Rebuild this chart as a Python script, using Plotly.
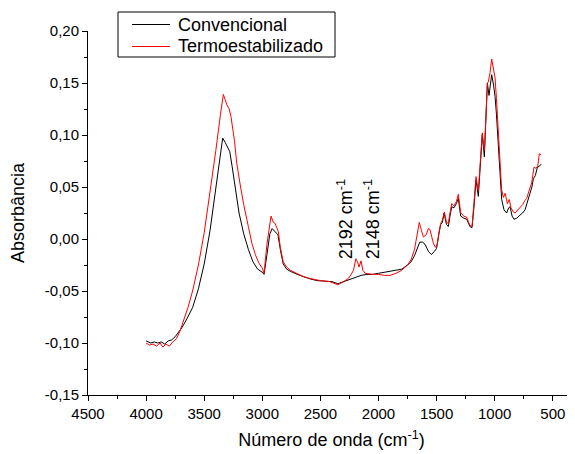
import plotly.graph_objects as go

# ---- data ----
conv_wn = [4000, 3960, 3930, 3900, 3870, 3840, 3810, 3780, 3750, 3720, 3690, 3650, 3600, 3550, 3500, 3450,
           3400, 3360, 3341, 3320, 3300, 3280, 3260, 3230, 3200, 3160, 3120, 3080, 3040, 3000, 2985, 2960,
           2935, 2915, 2890, 2865, 2845, 2820, 2790, 2760, 2700, 2650, 2600, 2530, 2450, 2400, 2350, 2300,
           2250, 2200, 2150, 2100, 2050, 2000, 1950, 1900, 1850, 1800, 1750, 1720, 1690, 1665, 1645, 1620,
           1600, 1570, 1545, 1520, 1500, 1480, 1465, 1450, 1436, 1415, 1399, 1385, 1370, 1350, 1330, 1313,
           1293, 1265, 1241, 1213, 1195, 1175, 1161, 1141, 1120, 1107, 1089, 1075, 1063, 1049, 1035, 1026,
           1010, 997, 985, 969, 955, 940, 920, 897, 880, 868, 850, 834, 810, 782, 760, 739, 715, 696, 680,
           667, 650, 633, 615, 600]
conv_abs = [-0.098, -0.100, -0.099, -0.100, -0.099, -0.101, -0.098, -0.097, -0.094, -0.090, -0.085, -0.077,
            -0.066, -0.048, -0.024, 0.008, 0.050, 0.085, 0.097, 0.093, 0.088, 0.084, 0.070, 0.045, 0.025,
            0.005, -0.010, -0.022, -0.029, -0.032, -0.034, -0.015, 0.005, 0.010, 0.007, 0.004, -0.010,
            -0.024, -0.029, -0.031, -0.034, -0.036, -0.038, -0.040, -0.041, -0.041, -0.043, -0.041, -0.039,
            -0.037, -0.035, -0.034, -0.034, -0.033, -0.032, -0.031, -0.030, -0.029, -0.025, -0.022, -0.016,
            -0.008, -0.003, -0.003, -0.005, -0.012, -0.015, -0.012, -0.009, 0.005, 0.014, 0.016, 0.025,
            0.014, 0.012, 0.022, 0.031, 0.030, 0.034, 0.039, 0.022, 0.020, 0.019, 0.012, 0.011, 0.035,
            0.057, 0.041, 0.080, 0.100, 0.079, 0.120, 0.150, 0.138, 0.153, 0.158, 0.148, 0.137, 0.120,
            0.095, 0.065, 0.038, 0.028, 0.025, 0.030, 0.031, 0.022, 0.019, 0.020, 0.023, 0.025, 0.028,
            0.036, 0.044, 0.050, 0.058, 0.061, 0.069, 0.070, 0.072]

termo_wn = [4000, 3970, 3940, 3910, 3880, 3855, 3830, 3800, 3770, 3740, 3710, 3680, 3640, 3600, 3550, 3500,
            3450, 3400, 3360, 3335, 3320, 3305, 3285, 3270, 3240, 3220, 3190, 3160, 3120, 3090, 3060, 3030,
            3000, 2985, 2960, 2940, 2925, 2905, 2890, 2862, 2845, 2820, 2790, 2760, 2700, 2650, 2590, 2500,
            2420, 2350, 2300, 2260, 2235, 2215, 2195, 2180, 2168, 2150, 2135, 2115, 2050, 2000, 1950, 1900,
            1850, 1800, 1750, 1720, 1690, 1665, 1649, 1630, 1614, 1590, 1570, 1557, 1540, 1528, 1510, 1495,
            1480, 1465, 1450, 1433, 1415, 1399, 1385, 1370, 1350, 1330, 1313, 1293, 1265, 1241, 1225, 1213,
            1195, 1175, 1161, 1141, 1120, 1107, 1089, 1075, 1063, 1055, 1040, 1026, 1010, 997, 985, 969,
            954, 940, 925, 910, 891, 875, 860, 840, 825, 800, 782, 760, 740, 725, 700, 682, 662, 645, 630,
            616, 600]
termo_abs = [-0.100, -0.102, -0.101, -0.103, -0.100, -0.104, -0.101, -0.103, -0.099, -0.096, -0.089, -0.080,
             -0.066, -0.050, -0.025, 0.006, 0.044, 0.085, 0.120, 0.139, 0.134, 0.129, 0.125, 0.118, 0.095,
             0.073, 0.052, 0.033, 0.012, -0.004, -0.015, -0.023, -0.028, -0.033, -0.005, 0.012, 0.022,
             0.016, 0.015, 0.007, -0.008, -0.022, -0.027, -0.030, -0.033, -0.036, -0.038, -0.040, -0.041,
             -0.044, -0.041, -0.038, -0.034, -0.030, -0.019, -0.022, -0.027, -0.021, -0.030, -0.033,
             -0.034, -0.034, -0.035, -0.035, -0.033, -0.030, -0.025, -0.020, -0.010, 0.008, 0.016, 0.008,
             0.002, 0.004, 0.010, 0.009, 0.000, -0.004, -0.008, -0.005, 0.006, 0.015, 0.018, 0.026, 0.016,
             0.015, 0.025, 0.034, 0.032, 0.036, 0.043, 0.025, 0.022, 0.021, 0.016, 0.013, 0.012, 0.038,
             0.060, 0.046, 0.082, 0.102, 0.085, 0.125, 0.150, 0.151, 0.160, 0.173, 0.163, 0.155, 0.135,
             0.100, 0.069, 0.047, 0.040, 0.044, 0.034, 0.038, 0.030, 0.026, 0.025, 0.028, 0.030, 0.033,
             0.037, 0.039, 0.048, 0.054, 0.069, 0.068, 0.070, 0.082, 0.081]

series_names = ["Convencional", "Termoestabilizado"]
series_colors = ["#000000", "#ff0000"]

x_tick_vals = [4500, 4000, 3500, 3000, 2500, 2000, 1500, 1000, 500]
x_tick_text = ["4500", "4000", "3500", "3000", "2500", "2000", "1500", "1000", "500"]
y_tick_vals = [-0.15, -0.10, -0.05, 0.00, 0.05, 0.10, 0.15, 0.20]
y_tick_text = ["-0,15", "-0,10", "-0,05", "0,00", "0,05", "0,10", "0,15", "0,20"]

peak_labels = ["2192 cm<sup>-1</sup>", "2148 cm<sup>-1</sup>"]
peak_label_x = [2288, 2056]
peak_label_y = [0.019, 0.019]

FONT = "Arial, Liberation Sans, sans-serif"
OFF = 8  # page body margin
W, H = 575 - OFF, 454 - OFF
ML, MR, MT, MB = 80, 0, 23, 59
PW, PH = W - ML - MR, H - MT - MB


def px_to_paper(px, py):
    # screen pixel -> paper coords
    return (px - OFF - ML) / PW, (OFF + H - MB - py) / PH


fig = go.Figure()
for xs, ys, nm, col in [(conv_wn, conv_abs, series_names[0], series_colors[0]),
                        (termo_wn, termo_abs, series_names[1], series_colors[1])]:
    fig.add_trace(go.Scatter(x=xs, y=ys, mode="lines", name=nm,
                             line=dict(color=col, width=1), showlegend=False))

for txt, xv, yv in zip(peak_labels, peak_label_x, peak_label_y):
    fig.add_annotation(x=xv, y=yv, xref="x", yref="y", text=txt, showarrow=False,
                       textangle=-90, font=dict(family=FONT, size=18, color="#000000"))

# legend box (drawn in paper coords)
bx0, by0 = px_to_paper(118, 57)
bx1, by1 = px_to_paper(335, 12)
fig.add_shape(type="rect", xref="paper", yref="paper", x0=bx0, y0=by0, x1=bx1, y1=by1,
              line=dict(color="#000000", width=1), fillcolor="white", layer="above")
for i, (nm, col) in enumerate(zip(series_names, series_colors)):
    ly = 24.5 + i * 22
    lx0, lyp = px_to_paper(132, ly)
    lx1, _ = px_to_paper(170, ly)
    fig.add_shape(type="line", xref="paper", yref="paper", x0=lx0, x1=lx1, y0=lyp, y1=lyp,
                  line=dict(color=col, width=1), layer="above")
    tx, _ = px_to_paper(176, ly)
    fig.add_annotation(x=tx, y=lyp, xref="paper", yref="paper", text=nm, showarrow=False,
                       xanchor="left", yanchor="middle",
                       font=dict(family=FONT, size=18, color="#000000"))

fig.update_layout(
    width=W, height=H,
    margin=dict(l=ML, r=MR, t=MT, b=MB, autoexpand=False),
    paper_bgcolor="white", plot_bgcolor="white",
    font=dict(family=FONT, color="#000000"),
    showlegend=False,
)
fig.update_xaxes(
    range=[4500, 309], autorange=False,
    tickmode="array", tickvals=x_tick_vals, ticktext=x_tick_text,
    ticks="outside", ticklen=5, tickwidth=1, tickcolor="#000000",
    minor=dict(ticks="outside", ticklen=3, tickcolor="#000000", dtick=250, tick0=0),
    showline=True, linecolor="#000000", linewidth=1, mirror=False,
    showgrid=False, zeroline=False, automargin=False,
    tickfont=dict(family=FONT, size=15, color="#000000"),
    title=dict(text="Número de onda (cm<sup>-1</sup>)", font=dict(family=FONT, size=18, color="#000000"),
               standoff=12),
)
fig.update_yaxes(
    range=[-0.15, 0.20], autorange=False,
    tickmode="array", tickvals=y_tick_vals, ticktext=y_tick_text,
    ticks="outside", ticklen=5, tickwidth=1, tickcolor="#000000",
    minor=dict(ticks="outside", ticklen=3, tickcolor="#000000", dtick=0.025, tick0=0),
    showline=True, linecolor="#000000", linewidth=1, mirror=False,
    showgrid=False, zeroline=False, automargin=False,
    tickfont=dict(family=FONT, size=15, color="#000000"),
    title=dict(text="Absorbância", font=dict(family=FONT, size=18, color="#000000"), standoff=16),
)

fig.write_html("out.html")
